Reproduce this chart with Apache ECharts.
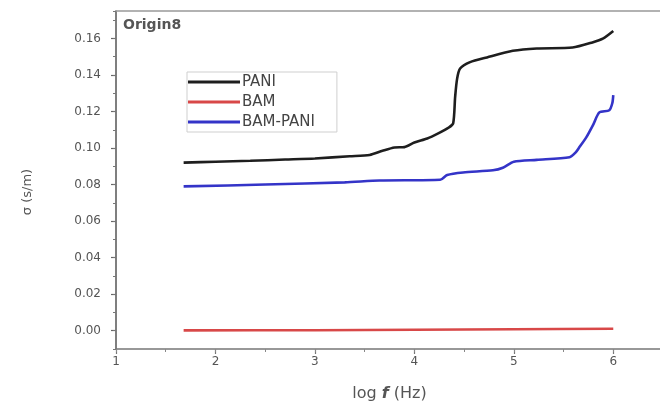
<!DOCTYPE html>
<html>
<head>
<meta charset="utf-8">
<script src="https://cdn.jsdelivr.net/npm/echarts@6/dist/echarts.min.js"></script>
<style>
html,body{margin:0;padding:0;background:#fff;}
#c{width:660px;height:403px;}
</style>
</head>
<body>
<div id="c"></div>
<script>
// ---- data ----
const paniX = [1.68, 2.0, 2.35, 2.7, 3.0, 3.35, 3.55, 3.68, 3.8, 3.9, 4.0, 4.13, 4.24, 4.34, 4.39, 4.41, 4.43, 4.46, 4.56, 4.73, 4.99, 5.23, 5.59, 5.79, 5.9, 6.0];
const paniY = [0.092, 0.0925, 0.093, 0.0937, 0.0943, 0.0955, 0.0962, 0.0985, 0.1003, 0.1005, 0.103, 0.1052, 0.108, 0.111, 0.1135, 0.128, 0.138, 0.1435, 0.147, 0.1496, 0.1532, 0.1545, 0.155, 0.1578, 0.160, 0.164];
const bamX = [1.68, 3.0, 4.0, 5.0, 6.0];
const bamY = [0.0002, 0.0003, 0.0005, 0.0008, 0.0011];
const bamPaniX = [1.68, 2.5, 3.3, 3.65, 4.26, 4.33, 4.49, 4.79, 4.89, 5.0, 5.23, 5.56, 5.62, 5.66, 5.73, 5.8, 5.86, 5.96, 5.99, 6.0];
const bamPaniY = [0.0790, 0.0800, 0.0812, 0.0822, 0.0826, 0.0852, 0.0866, 0.0878, 0.0892, 0.0925, 0.0935, 0.0950, 0.0975, 0.1005, 0.1060, 0.1130, 0.1195, 0.1207, 0.1245, 0.129];
const seriesNames = ['PANI', 'BAM', 'BAM-PANI'];
const seriesColors = ['#1e1e1e', '#d84848', '#3434c8'];

const pairs = (xs, ys) => xs.map((x, i) => [x, ys[i]]);
const seriesData = [pairs(paniX, paniY), pairs(bamX, bamY), pairs(bamPaniX, bamPaniY)];

const chart = echarts.init(document.getElementById('c'), null, {renderer: 'canvas'});
const font = 'DejaVu Sans, Liberation Sans, sans-serif';
const X_MIN = 1, X_MAX = 6.5, Y_MIN = -0.01, Y_MAX = 0.175;

chart.setOption({
  animation: false,
  backgroundColor: '#ffffff',
  grid: {left: 116, top: 11, right: -3, bottom: 54, containLabel: false, outerBoundsMode: 'none'},
  legend: {
    orient: 'vertical',
    left: 187, top: 72,
    data: seriesNames,
    icon: 'rect',
    itemWidth: 52, itemHeight: 3,
    itemGap: 0,
    padding: [0, 22, 0, 1],
    borderColor: '#cfcfcf', borderWidth: 1,
    textStyle: {fontFamily: font, fontSize: 15, color: '#444', lineHeight: 20, padding: [0, 0, 0, -3]}
  },
  graphic: [{
    type: 'text', left: 123, top: 18,
    style: {text: 'Origin8', fontFamily: font, fontSize: 14, fontWeight: 'bold', fill: '#555'}
  }],
  xAxis: [{
    type: 'value', position: 'bottom', min: X_MIN, max: X_MAX, interval: 1,
    name: '{a|log }{b|f}{a| (Hz)}', nameLocation: 'middle', nameGap: 37,
    nameTextStyle: {rich: {a: {fontFamily: font, fontSize: 16, color: '#555'}, b: {fontFamily: font, fontSize: 16, fontStyle: 'italic', fontWeight: 'bold', color: '#555'}}},
    axisLine: {show: true, onZero: false, lineStyle: {color: '#777', width: 1.5}},
    axisTick: {show: true, length: 5, lineStyle: {color: '#777', width: 1.2}},
    axisLabel: {fontFamily: font, fontSize: 12, color: '#555', margin: 7,
      formatter: v => Number.isInteger(v) ? String(v) : ''},
    splitLine: {show: false}
  }, {
    type: 'value', position: 'bottom', min: X_MIN, max: X_MAX, interval: 0.5,
    axisLine: {show: false, onZero: false},
    axisTick: {show: true, length: 3, lineStyle: {color: '#888', width: 1}},
    axisLabel: {show: false}, splitLine: {show: false}
  }, {
    type: 'value', position: 'top', min: X_MIN, max: X_MAX,
    axisLine: {show: true, onZero: false, lineStyle: {color: '#999', width: 1.5}},
    axisTick: {show: false}, axisLabel: {show: false}, splitLine: {show: false}
  }],
  yAxis: [{
    type: 'value', position: 'left', min: Y_MIN, max: Y_MAX,
    minInterval: 0.02, maxInterval: 0.02, splitNumber: 9,
    name: 'σ (s/m)', nameLocation: 'middle', nameGap: 82,
    nameTextStyle: {fontFamily: font, fontSize: 13, color: '#555', padding: [0, 24, 0, 0]},
    axisLine: {show: true, onZero: false, lineStyle: {color: '#555', width: 1.5}},
    axisTick: {show: true, length: 5, lineStyle: {color: '#666', width: 1.2}},
    axisLabel: {fontFamily: font, fontSize: 12, color: '#555', margin: 15,
      showMinLabel: false, showMaxLabel: false,
      formatter: v => v.toFixed(2)},
    splitLine: {show: false}
  }, {
    type: 'value', position: 'left', min: Y_MIN, max: Y_MAX, interval: 0.01,
    axisLine: {show: false, onZero: false},
    axisTick: {show: true, length: 3, lineStyle: {color: '#777', width: 1}},
    axisLabel: {show: false}, splitLine: {show: false}
  }],
  series: seriesNames.map((n, i) => ({
    name: n, type: 'line', xAxisIndex: 0, yAxisIndex: 0,
    data: seriesData[i], showSymbol: false, symbol: 'none', smooth: 0.25,
    color: seriesColors[i],
    lineStyle: {color: seriesColors[i], width: 2.6}
  }))
});
</script>
</body>
</html>
